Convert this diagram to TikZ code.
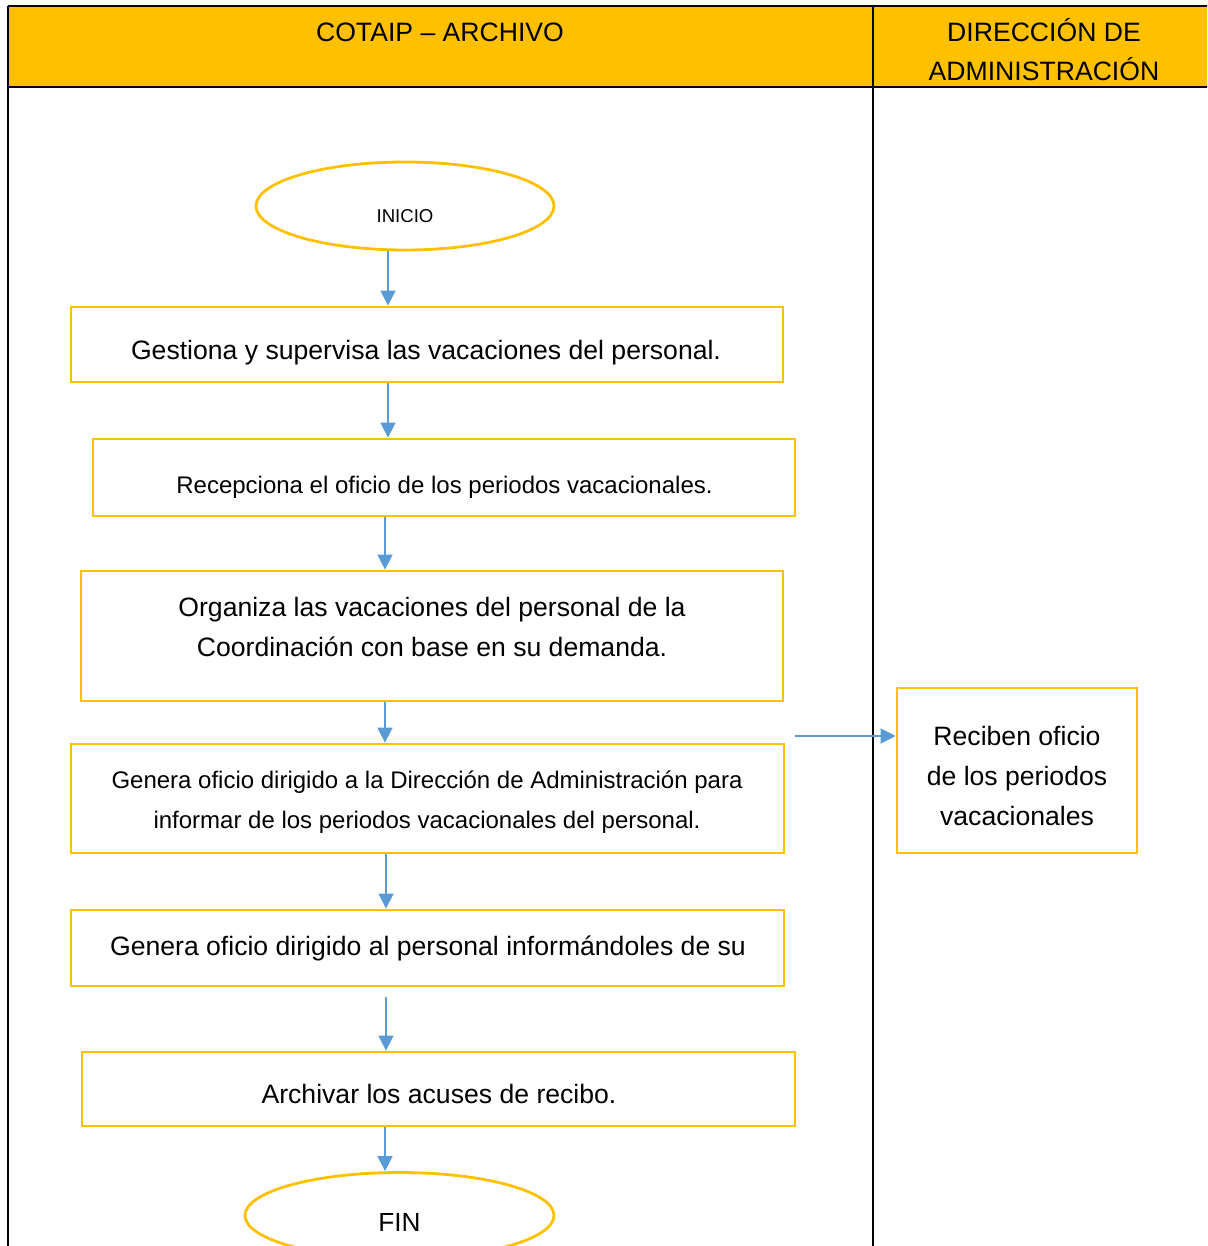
\documentclass[tikz,border=0pt]{standalone}
\usepackage{fontspec}
\setmainfont{Liberation Sans}
\usetikzlibrary{arrows.meta,shapes.geometric}
\definecolor{ylw}{HTML}{FFC000}
\definecolor{arrblue}{HTML}{5B9BD5}
\tikzset{
  lane/.style={draw=black,line width=1.1pt},
  stepbox/.style={draw=ylw,line width=1.4pt,rectangle,inner sep=0pt},
  term/.style={draw=ylw,line width=1.4pt,ellipse,inner sep=0pt},
  arr/.style={draw=arrblue,line width=0.8pt,-{Triangle[length=7.5pt,width=7.5pt]}},
  big/.style={font=\fontsize{13.3}{20}\selectfont,align=center,inner sep=0pt},
  small/.style={font=\fontsize{12}{20}\selectfont,align=center,inner sep=0pt},
  hdr/.style={font=\fontsize{13.3}{19.5}\selectfont,align=center,inner sep=0pt}
}
\begin{document}
\begin{tikzpicture}[x=0.5pt,y=-0.5pt]
\useasboundingbox (0,0) rectangle (1207,1246);
\clip (0,0) rectangle (1207,1246);
% header
\fill[ylw] (8,6) rectangle (1210,87);
\draw[lane] (8,6) -- (1210,6);
\draw[lane] (8,87) -- (1210,87);
\draw[lane] (8,6) -- (8,1250);
\draw[lane] (873,6) -- (873,1250);
\node[hdr] (h1) at (440,32) {COTAIP – ARCHIVO};
\node[hdr] (h2) at (1044,50) {DIRECCIÓN DE\\ADMINISTRACIÓN};
% shapes
\node[term,minimum width=149pt,minimum height=44pt] (ini) at (405,206) {};
\node[stepbox,minimum width=356pt,minimum height=37.5pt] (b1) at (427,344.5) {};
\node[stepbox,minimum width=351pt,minimum height=38.5pt] (b2) at (444,477.5) {};
\node[stepbox,minimum width=351pt,minimum height=65pt] (b3) at (432,636) {};
\node[stepbox,minimum width=356.5pt,minimum height=54.5pt] (b4) at (427.5,798.5) {};
\node[stepbox,minimum width=356.5pt,minimum height=38pt] (b5) at (427.5,948) {};
\node[stepbox,minimum width=356.5pt,minimum height=37pt] (b6) at (438.5,1089) {};
\node[term,minimum width=154.5pt,minimum height=43pt] (fin) at (399.5,1215.5) {};
\node[stepbox,minimum width=120pt,minimum height=82.5pt] (rb) at (1017,770.5) {};
% texts
\node[font=\fontsize{9.3}{11}\selectfont,inner sep=0pt] (t0) at (405,216) {INICIO};
\node[big] (t1) at (426,353) {Gestiona y supervisa las vacaciones del personal.};
\node[small] (t2) at (444.5,487) {Recepciona el oficio de los periodos vacacionales.};
\node[big] (t3) at (432,627) {Organiza las vacaciones del personal de la\\Coordinación con base en su demanda.};
\node[small] (t4) at (427,802) {Genera oficio dirigido a la Dirección de Administración para\\informar de los periodos vacacionales del personal.};
\node[big] (t5) at (428,948) {Genera oficio dirigido al personal informándoles de su};
\node[big] (t6) at (439,1094) {Archivar los acuses de recibo.};
\node[font=\fontsize{13.1}{15}\selectfont,inner sep=0pt] (t7) at (399.5,1222) {FIN};
\node[big] (t8) at (1017,776) {Reciben oficio\\de los periodos\\vacacionales};
% connectors
\coordinate (x1) at (388,0);
\coordinate (x2) at (385,0);
\coordinate (x3) at (386,0);
\draw[arr] (ini.south -| x1) -- (b1.north -| x1);
\draw[arr] (b1.south -| x1) -- (b2.north -| x1);
\draw[arr] (b2.south -| x2) -- (b3.north -| x2);
\draw[arr] (b3.south -| x2) -- (b4.north -| x2);
\draw[arr] (b4.south -| x3) -- (b5.north -| x3);
\draw[arr,shorten <=5pt] (b5.south -| x3) -- (b6.north -| x3);
\draw[arr] (b6.south -| x2) -- (fin.north -| x2);
\coordinate (rs) at (795,736);
\draw[arr] (rs) -- (rs -| rb.west);
\end{tikzpicture}
\end{document}
